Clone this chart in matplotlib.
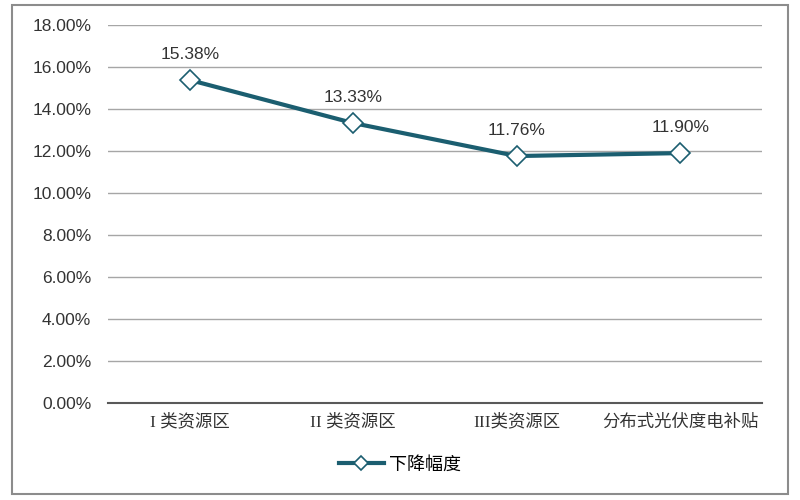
import matplotlib
matplotlib.use('Agg')
import matplotlib.pyplot as plt
from matplotlib.patches import Rectangle
from matplotlib.ticker import FuncFormatter

categories = ['I 类资源区', 'II 类资源区', 'III类资源区', '分布式光伏度电补贴']
values = [15.38, 13.33, 11.76, 11.90]
series_name = '下降幅度'

line_color = '#1b5e70'
grid_color = '#a6a6a6'

plt.rcParams['font.family'] = ['Liberation Sans', 'Noto Sans CJK SC', 'DejaVu Sans']

fig = plt.figure(figsize=(8, 5), dpi=100)
ax = fig.add_axes([0.135, 0.194, 0.8175, 0.756])

x = list(range(len(categories)))
ax.plot(x, values, color=line_color, lw=3, marker='D', markersize=10,
        markerfacecolor='white', markeredgecolor=line_color, markeredgewidth=1.2,
        label=series_name, zorder=3)

for xi, v in zip(x, values):
    ax.annotate(f'{v:.2f}%', (xi, v), xytext=(0, 13), textcoords='offset points',
                ha='center', va='bottom', fontsize=12.5, color='#333333')

ax.set_xlim(-0.5, len(categories) - 0.5)
ax.set_ylim(0, 18)
ax.set_yticks(range(0, 19, 2))
ax.yaxis.set_major_formatter(FuncFormatter(lambda v, p: f'{v:.2f}%'))
ax.set_xticks(x)
ax.set_xticklabels(categories, family=['Liberation Serif', 'Noto Sans CJK SC'])
ax.tick_params(axis='both', length=0, labelsize=12.5, colors='#333333')
ax.tick_params(axis='y', pad=12)
ax.tick_params(axis='x', pad=8)

ax.grid(axis='y', color=grid_color, lw=1)
ax.set_axisbelow(True)
for s in ['top', 'right', 'left']:
    ax.spines[s].set_visible(False)
ax.spines['bottom'].set_color('#595959')
ax.spines['bottom'].set_linewidth(1.5)

fig.legend(loc='center', bbox_to_anchor=(0.5, 0.07), frameon=False,
           fontsize=13, handlelength=2.5, handletextpad=0.3, markerscale=0.7)

fig.patches.append(Rectangle((0.015, 0.012), 0.97, 0.978, transform=fig.transFigure,
                             fill=False, edgecolor='#8c8c8c', lw=1.5))

fig.savefig('out.png', dpi=100)
